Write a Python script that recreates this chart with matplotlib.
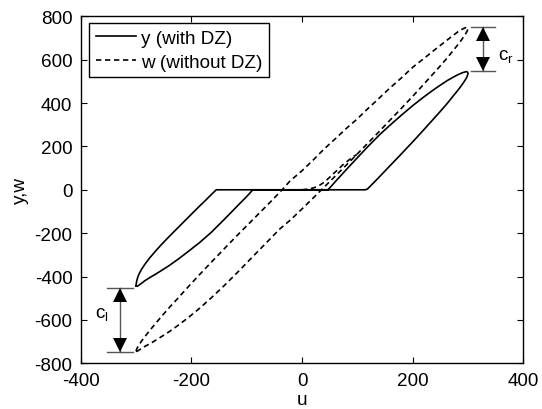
import matplotlib
matplotlib.use('Agg')
import matplotlib.pyplot as plt
from matplotlib.transforms import offset_copy

plt.rcParams['font.family'] = ['Liberation Sans', 'DejaVu Sans']
plt.rcParams['axes.unicode_minus'] = False
plt.rcParams['font.size'] = 13.6

# ---- data ----
# w (without DZ): closed loop; outer (upper-left) branch going up, inner (lower-right) branch coming down
w_u = [-300, -299, -297, -294, -290, -284, -276, -266, -254, -240, -224, -206, -186, -164, -140,
       -114, -86, -56, -36, -22, 0, 20, 39, 60, 80, 99, 118, 135, 159, 180, 200, 219, 236, 249,
       262, 273, 282, 289, 294, 297, 299, 300,
       299, 297, 294, 289, 282, 273, 262, 249, 236, 219, 200, 180, 159, 135, 118, 99, 80, 60, 39,
       20, 0, -20, -40, -56, -86, -114, -140, -164, -186, -206, -224, -240, -254, -266, -276, -284,
       -290, -294, -297, -299, -300]
w_v = [-745, -735, -725, -713, -697, -677, -651, -620, -584, -543, -499, -448, -393, -334, -270,
       -202, -130, -53, 0, 40, 88, 137, 186, 235, 283, 325, 372, 412, 470, 517, 565, 603, 638, 664,
       690, 712, 729, 740, 746, 749, 749, 745,
       735, 725, 713, 694, 670, 642, 607, 569, 532, 484, 431, 377, 321, 257, 213, 163, 114, 63, 10,
       -38, -88, -137, -180, -222, -300, -374, -440, -498, -548, -590, -625, -654, -677, -696, -711,
       -722, -731, -738, -743, -745, -745]

# short start-up part of w from the origin
w0_u = [0, 10, 20, 30, 40, 50, 60, 75, 90, 99]
w0_v = [0, 3, 8, 18, 35, 58, 82, 118, 148, 163]

# y (with DZ): closed path
y_u = [-300, -298, -295, -290, -284, -276, -266, -254, -240, -224, -206, -186, -164, -140, -114,
       -100, -89,
       114, 118, 135, 159, 180, 200, 219, 236, 249, 262, 273, 282, 289, 294, 297, 299, 300, 299,
       297, 294, 289, 282, 273, 262, 249, 236, 219, 200, 180, 159, 141, 120, 100, 80, 62, 54, 47,
       -155, -164, -175, -186, -206, -224, -240, -254, -266, -276, -284, -290, -294, -297, -299,
       -300, -300]
y_v = [-444, -445, -440, -431, -419, -406, -391, -372, -349, -320, -285, -245, -196, -135, -67,
       -31, 0,
       0, 3, 47, 111, 167, 221, 274, 322, 359, 397, 432, 460, 484, 503, 515, 527, 537, 543,
       545, 543, 539, 531, 519, 503, 481, 458, 426, 388, 345, 298, 256, 202, 148, 93, 43, 20, 0,
       0, -22, -50, -77, -128, -174, -215, -252, -286, -316, -343, -366, -385, -403, -422,
       -438, -444]

# dead-zone width markers
cr_u, cr_top, cr_bot = 327, 749, 549
cl_u, cl_top, cl_bot = -329, -453, -746

xticks = [-400, -200, 0, 200, 400]
yticks = [-800, -600, -400, -200, 0, 200, 400, 600, 800]

fig = plt.figure(figsize=(5.42, 4.10), dpi=100)
ax = fig.add_axes([0.149, 0.1115, 0.8166, 0.8463])

dash = (0, (3.2, 2.2))
ax.plot(y_u, y_v, color='black', lw=1.2, label='y (with DZ)', solid_joinstyle='round')
ax.plot(w_u, w_v, color='black', lw=1.2, ls=dash, label='w (without DZ)')
ax.plot(w0_u, w0_v, color='black', lw=1.2, ls=dash)

gray = '#555555'
for (xu, top, bot, half) in [(cr_u, cr_top, cr_bot, 21), (cl_u, cl_top, cl_bot, 24)]:
    ax.plot([xu - half, xu + half], [top, top], color=gray, lw=1.0)
    ax.plot([xu - half, xu + half], [bot, bot], color=gray, lw=1.0)
    ax.plot([xu, xu], [top, bot], color=gray, lw=1.0)
    ms = 9.5
    tr_dn = offset_copy(ax.transData, fig=fig, x=0, y=-ms / 2, units='points')
    tr_up = offset_copy(ax.transData, fig=fig, x=0, y=ms / 2, units='points')
    ax.plot([xu], [top], marker='^', ms=ms, color='black', transform=tr_dn, mew=0)
    ax.plot([xu], [bot], marker='v', ms=ms, color='black', transform=tr_up, mew=0)

ax.text(354, 603, r'$\mathregular{c_r}$', fontsize=13.6, ha='left', va='baseline')
ax.text(-374, -587, r'$\mathregular{c_l}$', fontsize=13.6, ha='left', va='baseline')

ax.set_xlim(-400, 400)
ax.set_ylim(-800, 800)
ax.set_xticks(xticks)
ax.set_yticks(yticks)
ax.tick_params(direction='in', length=4, width=0.8, top=True, right=True, pad=6, labelsize=13.6)
for s in ax.spines.values():
    s.set_linewidth(1.0)
ax.set_xlabel('u', labelpad=2)
ax.set_ylabel('y,w', labelpad=4)

leg = ax.legend(loc='upper left', bbox_to_anchor=(0.0194, 0.9807), borderaxespad=0,
                fancybox=False, edgecolor='black', framealpha=1, handlelength=2.1,
                handletextpad=0.3, labelspacing=0.35, borderpad=0.35, fontsize=13.6)
leg.get_frame().set_linewidth(1.0)

fig.savefig('out.png', dpi=100)
